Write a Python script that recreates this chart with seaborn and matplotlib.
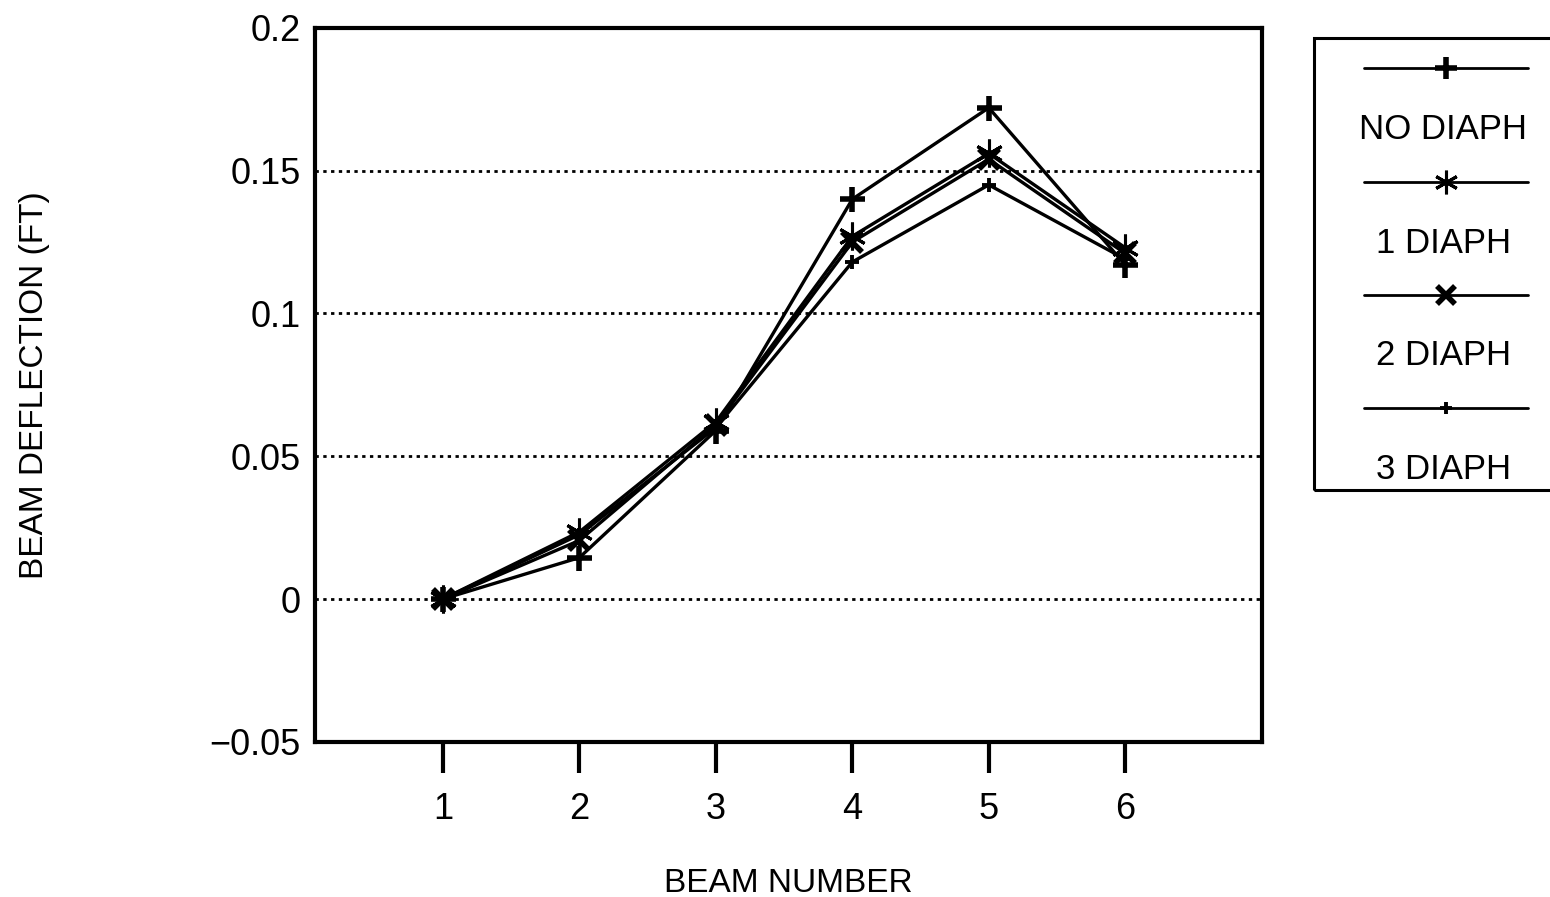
import matplotlib
matplotlib.use("Agg")
import matplotlib.pyplot as plt
import seaborn as sns
import pandas as pd
from matplotlib.lines import Line2D
from matplotlib.patches import Rectangle

# Beam deflection per girder for each diaphragm configuration
beams = [1, 2, 3, 4, 5, 6]
no_diaph = [0.0, 0.0145, 0.059, 0.140, 0.172, 0.117]
one_diaph = [0.0, 0.0235, 0.062, 0.127, 0.156, 0.123]
two_diaph = [0.0, 0.0205, 0.061, 0.125, 0.154, 0.121]
three_diaph = [0.0, 0.0225, 0.060, 0.118, 0.145, 0.119]

series_names = ["NO DIAPH", "1 DIAPH", "2 DIAPH", "3 DIAPH"]
series_values = [no_diaph, one_diaph, two_diaph, three_diaph]

y_ticks = [-0.05, 0.0, 0.05, 0.1, 0.15, 0.2]
y_tick_labels = ["\u22120.05", "0", "0.05", "0.1", "0.15", "0.2"]
grid_levels = [0.0, 0.05, 0.1, 0.15]

# marker, size, edge width for each series
styles = {
    "NO DIAPH": ("+", 18, 4.0),
    "1 DIAPH": ((6, 2, 0), 20, 2.2),
    "2 DIAPH": ("x", 15, 4.0),
    "3 DIAPH": ("+", 10, 2.8),
}

df = pd.DataFrame(
    [(name, b, v) for name, vals in zip(series_names, series_values)
     for b, v in zip(beams, vals)],
    columns=["series", "beam", "deflection"],
)

sns.set_theme(style="white")
plt.rcParams["font.family"] = ["Liberation Sans", "DejaVu Sans"]

fig = plt.figure(figsize=(15.5, 8.97), dpi=100)
ax = fig.add_axes([0.203, 0.173, 0.611, 0.796])

for name in series_names:
    m, ms, mew = styles[name]
    sns.lineplot(
        data=df[df["series"] == name], x="beam", y="deflection",
        ax=ax, color="black", linewidth=2.4, marker=m, markersize=ms,
        markeredgewidth=mew, markeredgecolor="black", markerfacecolor="black",
        legend=False, zorder=3,
    )

for lvl in grid_levels:
    ax.axhline(lvl, color="black", linestyle=(0, (1.2, 1.6)), linewidth=2.0, zorder=1)

ax.set_xlim(0.06, 7.0)
ax.set_ylim(-0.05, 0.2)
ax.set_xticks(beams)
ax.set_xticklabels([str(b) for b in beams])
ax.set_yticks(y_ticks)
ax.set_yticklabels(y_tick_labels)
ax.tick_params(axis="x", direction="out", length=22, width=3, color="black",
               bottom=True, labelsize=26, pad=14)
ax.tick_params(axis="y", length=0, labelsize=26, pad=10)
for t in ax.get_xticklabels() + ax.get_yticklabels():
    t.set_color("black")
for sp in ax.spines.values():
    sp.set_color("black")
    sp.set_linewidth(3)

ax.set_xlabel("BEAM NUMBER", fontsize=24, color="black", labelpad=30)
ax.set_ylabel("BEAM DEFLECTION (FT)", fontsize=24, color="black", labelpad=115)

# Key panel at the right: sample line above each label
lax = fig.add_axes([0.848, 0.454, 0.16, 0.504])
lax.set_xlim(0, 1)
lax.set_ylim(0, 1)
lax.axis("off")
lax.add_patch(Rectangle((0, 0), 1.2, 1, fill=False, edgecolor="black",
                        linewidth=2.2, clip_on=False))
line_rows = [0.934, 0.681, 0.431, 0.181]
text_rows = [0.801, 0.549, 0.301, 0.049]
for name, ly, ty in zip(series_names, line_rows, text_rows):
    m, ms, mew = styles[name]
    lax.add_line(Line2D([0.2, 0.86], [ly, ly], color="black", linewidth=2.0))
    lax.add_line(Line2D([0.53], [ly], marker=m, markersize=ms * 0.85,
                        markeredgewidth=mew, color="black"))
    lax.text(0.52, ty - 0.005, name, ha="center", va="center", fontsize=25,
             color="black")

fig.savefig("out.png", dpi=100, facecolor="white")
